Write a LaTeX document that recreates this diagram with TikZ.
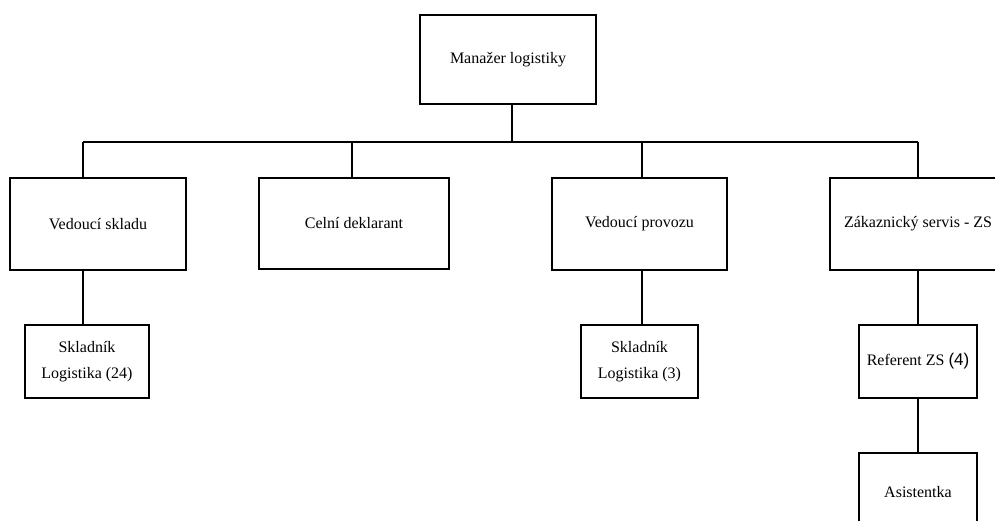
\documentclass[tikz,border=0pt]{standalone}
\usepackage{fontspec}
\setmainfont{Liberation Serif}
\newfontfamily\numfont{Liberation Sans}
\usepackage{tikz}
\usetikzlibrary{calc}
\tikzset{box/.style={draw,line width=1.6pt,inner sep=0pt,align=center,font=\fontsize{16}{26}\selectfont}}

\begin{document}
\begin{tikzpicture}[x=1pt,y=-1pt,line width=1.6pt]
\def\bus{142};
\useasboundingbox (0,0) rectangle (995,521);
\clip (0,0) rectangle (995,521);
% draw boxes
\node[box,minimum width=176,minimum height=89] (man) at (508,59.5) {Manažer logistiky};
\node[box,minimum width=176,minimum height=92] (vsk) at (98,224) {Vedoucí skladu};
\node[box,minimum width=190,minimum height=91] (cd) at (354,223.5) {Celní deklarant};
\node[box,minimum width=175,minimum height=92] (vp) at (639.5,224) {Vedoucí provozu};
\node[box,minimum width=176,minimum height=92] (zs) at (918,224) {Zákaznický servis - ZS};
\node[box,minimum width=124,minimum height=73] (sk1) at (87,361.5) {Skladník\\Logistika (24)};
\node[box,minimum width=117,minimum height=73] (sk2) at (639.5,361.5) {Skladník\\Logistika (3)};
\node[box,minimum width=118,minimum height=73] (ref) at (918,361.5) {Referent ZS {\numfont\fontsize{17}{26}\selectfont(4)}};
\node[box,minimum width=118,minimum height=78] (asi) at (918,492) {Asistentka};
% drop points on the bus
\coordinate (top) at (512,\bus);
\coordinate (d1) at (83,\bus);
\coordinate (d2) at (352,\bus);
\coordinate (d3) at (642,\bus);
\coordinate (d4) at (918,\bus);
% draw bus
\draw (top |- man.south) -- (top);
\draw (d1) -- (d4);
\draw (d1) -- (d1 |- vsk.north);
\draw (d2) -- (d2 |- cd.north);
\draw (d3) -- (d3 |- vp.north);
\draw (d4) -- (d4 |- zs.north);
% draw lower links
\draw (d1 |- vsk.south) -- (d1 |- sk1.north);
\draw (d3 |- vp.south) -- (d3 |- sk2.north);
\draw (zs.south) -- (ref.north);
\draw (ref.south) -- (asi.north);
\end{tikzpicture}
\end{document}
